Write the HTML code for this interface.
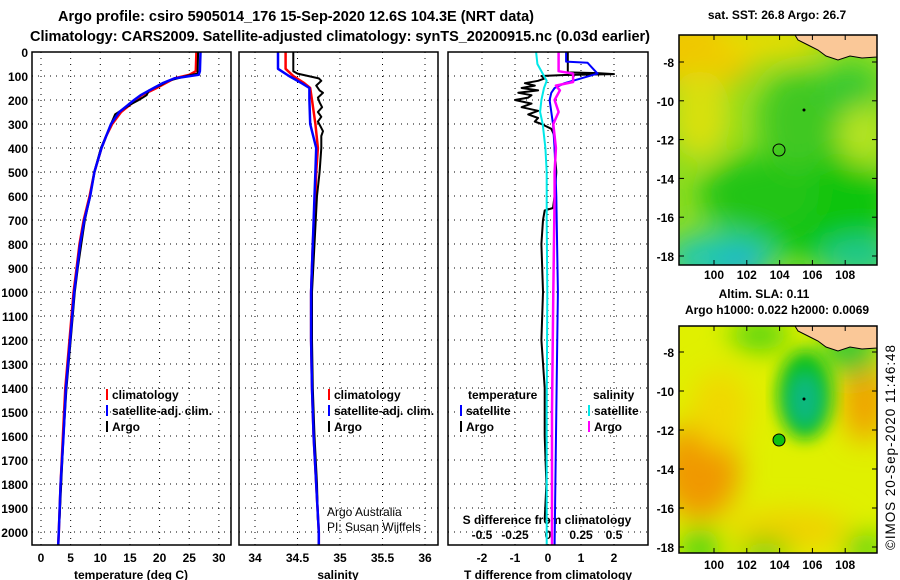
<!DOCTYPE html>
<html><head><meta charset="utf-8"><style>
body{margin:0;background:#fff;}
svg{display:block;font-family:"Liberation Sans",sans-serif;}
</style></head><body>
<svg id="chart" width="900" height="580" viewBox="0 0 900 580" xmlns="http://www.w3.org/2000/svg">
<defs>
<filter id="blur" x="-20%" y="-20%" width="140%" height="140%"><feGaussianBlur stdDeviation="14"/></filter>
<filter id="blur2" x="-20%" y="-20%" width="140%" height="140%"><feGaussianBlur stdDeviation="8"/></filter>
<clipPath id="cp1"><rect x="32" y="52" width="199" height="493"/></clipPath>
<clipPath id="cp2"><rect x="239" y="52" width="199" height="493"/></clipPath>
<clipPath id="cp3"><rect x="448" y="52" width="200" height="493"/></clipPath>
<clipPath id="cm1"><rect x="679" y="35" width="198" height="230"/></clipPath>
<clipPath id="cm2"><rect x="679" y="326" width="198" height="227"/></clipPath>
</defs>
<text x="296" y="21" text-anchor="middle" font-size="14.5" font-weight="bold" textLength="476">Argo profile: csiro 5905014_176 15-Sep-2020 12.6S 104.3E (NRT data)</text>
<text x="340" y="41" text-anchor="middle" font-size="14.5" font-weight="bold" textLength="620">Climatology: CARS2009. Satellite-adjusted climatology: synTS_20200915.nc (0.03d earlier)</text>

<!-- SST map -->
<g clip-path="url(#cm1)">
<rect x="679" y="35" width="198" height="230" fill="#8cdc20"/>
<g filter="url(#blur)">
<ellipse cx="700" cy="50" rx="60" ry="40" fill="#f0c800"/>
<ellipse cx="770" cy="40" rx="55" ry="20" fill="#e8dc00"/>
<ellipse cx="700" cy="115" rx="30" ry="45" fill="#d8e010"/>
<ellipse cx="820" cy="205" rx="75" ry="55" fill="#10c410"/>
<ellipse cx="760" cy="195" rx="60" ry="40" fill="#20c418"/>
<ellipse cx="800" cy="120" rx="40" ry="50" fill="#40c820"/>
<ellipse cx="850" cy="90" rx="30" ry="25" fill="#30c830"/>
<ellipse cx="862" cy="135" rx="22" ry="30" fill="#b8e420"/>
<ellipse cx="720" cy="258" rx="55" ry="25" fill="#20c8b0"/>
<ellipse cx="860" cy="258" rx="40" ry="20" fill="#20c890"/>
<ellipse cx="740" cy="264" rx="20" ry="8" fill="#10a0e8"/>
</g>
<path d="M795,35 L798,40 L808,45 L818,50 L826,56 L838,60 L850,56 L862,58 L877,57 L877,35 Z" fill="#fac898" stroke="#000" stroke-width="1"/>
<circle cx="779" cy="150" r="6" fill="none" stroke="#000" stroke-width="1"/>
<circle cx="804" cy="110" r="1.5" fill="#000"/>
</g>
<rect x="679" y="35" width="198" height="230" fill="none" stroke="#000" stroke-width="1.5"/>
<text x="777" y="19" text-anchor="middle" font-size="12" font-weight="bold">sat. SST: 26.8 Argo: 26.7</text>

<!-- SLA map -->
<g clip-path="url(#cm2)">
<rect x="679" y="326" width="198" height="227" fill="#e0f000"/>
<g filter="url(#blur)">
<ellipse cx="700" cy="470" rx="40" ry="50" fill="#f09800"/>
<ellipse cx="865" cy="400" rx="22" ry="42" fill="#f0a000"/>
<ellipse cx="790" cy="530" rx="60" ry="20" fill="#f0d000"/>
<ellipse cx="720" cy="410" rx="30" ry="40" fill="#f0d800"/>
<ellipse cx="760" cy="335" rx="30" ry="15" fill="#40d010"/>
<ellipse cx="700" cy="548" rx="20" ry="20" fill="#40d010"/>
<ellipse cx="765" cy="552" rx="25" ry="12" fill="#30d010"/>
<ellipse cx="865" cy="548" rx="20" ry="15" fill="#40d010"/>
<ellipse cx="850" cy="350" rx="30" ry="25" fill="#30c830"/>
</g>
<g filter="url(#blur2)">
<ellipse cx="805" cy="395" rx="28" ry="45" fill="#10c020"/>
<ellipse cx="805" cy="400" rx="15" ry="25" fill="#10b880"/>
</g>
<path d="M795,326 L798,331 L808,336 L818,341 L826,347 L838,351 L850,347 L862,349 L877,348 L877,326 Z" fill="#fac898" stroke="#000" stroke-width="1"/>
<circle cx="779" cy="440" r="6" fill="#10c010" stroke="#000" stroke-width="1"/>
<circle cx="804" cy="399" r="1.5" fill="#000"/>
</g>
<rect x="679" y="326" width="198" height="227" fill="none" stroke="#000" stroke-width="1.5"/>
<text x="764" y="298" text-anchor="middle" font-size="12" font-weight="bold">Altim. SLA: 0.11</text>
<text x="777" y="314" text-anchor="middle" font-size="12" font-weight="bold">Argo h1000: 0.022 h2000: 0.0069</text>
<text transform="translate(895,550) rotate(-90)" font-size="13.5" textLength="205">©IMOS 20-Sep-2020 11:46:48</text>

<g id="dyn"></g>
</svg>
<script>
// ---- data ----
const depthTicks = [0,100,200,300,400,500,600,700,800,900,1000,1100,1200,1300,1400,1500,1600,1700,1800,1900,2000];
const tempTicks = [0,5,10,15,20,25,30];
const salTicks = [34,34.5,35,35.5,36];
const tdiffTicks = [-2,-1,0,1,2];
const sdiffTicks = [-0.5,-0.25,0,0.25,0.5];
const lonTicks = [100,102,104,106,108];
const latTicks = [-8,-10,-12,-14,-16,-18];

const tDepth = [0,80,95,110,130,150,180,200,250,300,350,400,500,600,700,800,900,1000,1200,1400,1600,1800,2000,2055];
const tClim = [26.2,26.1,25.0,22.5,21.0,19.5,17.0,16.0,13.5,12.0,11.0,10.2,9.0,8.2,7.2,6.5,6.0,5.5,4.8,4.1,3.7,3.3,3.0,2.9];
const tSat = [26.9,26.8,26.6,22.5,20.5,19.0,16.8,15.7,13.2,11.8,11.0,10.2,9.0,8.3,7.3,6.6,6.1,5.6,4.9,4.2,3.8,3.3,3.0,2.9];
const tArgoDepth = [0,90,100,120,140,160,180,200,220,260,300,350,400,500,600,700,800,900,1000,1200,1400,1600,1800,1960];
const tArgo = [26.5,26.4,24.5,21.5,20.0,18.2,17.8,16.5,15.0,12.5,11.8,11.0,10.1,9.0,8.3,7.4,6.8,6.2,5.7,5.0,4.3,3.8,3.4,3.1];

const sDepth = [0,70,100,130,150,200,300,400,500,600,800,1000,1200,1400,1600,1800,2000,2055];
const sClim = [34.36,34.36,34.45,34.58,34.65,34.67,34.71,34.74,34.72,34.71,34.68,34.66,34.66,34.67,34.69,34.72,34.75,34.75];
const sSat = [34.27,34.27,34.40,34.55,34.64,34.64,34.65,34.72,34.71,34.70,34.68,34.66,34.66,34.67,34.69,34.72,34.75,34.75];
const sArgoDepth = [0,80,90,110,120,140,160,170,190,210,230,250,270,290,310,330,350,400,500,600,800,1000,1200,1400,1600,1800,1950];
const sArgo = [34.45,34.45,34.50,34.75,34.78,34.72,34.76,34.80,34.74,34.76,34.79,34.74,34.78,34.74,34.77,34.80,34.78,34.78,34.76,34.73,34.70,34.67,34.67,34.68,34.70,34.73,34.74];

const dTArgoDepth = [0,85,88,92,96,100,110,120,130,140,150,160,170,180,190,200,215,230,245,260,275,290,300,320,350,400,500,600,650,660,700,800,1000,1200,1400,1600,1800,1950];
const dTArgo = [0.6,0.6,1.5,2.0,0.5,-0.2,-0.1,-0.3,-0.7,-0.4,-0.8,-0.3,-0.9,-0.5,-0.6,-1.0,-0.5,-0.8,-0.3,-0.6,-0.3,-0.4,-0.2,0.1,0.2,0.2,0.25,0.2,0.15,-0.1,-0.15,-0.2,-0.15,-0.2,-0.1,-0.1,-0.05,-0.1];
const dTSatDepth = [0,40,45,60,90,110,130,150,170,200,300,400,600,1000,1500,2055];
const dTSat = [0.55,0.55,1.2,1.3,1.5,1.0,0.5,0.2,0.1,0.05,0.15,0.2,0.25,0.3,0.25,0.2];
const dSSatDepth = [0,50,100,120,150,200,250,300,400,500,700,1000,1500,2000,2055];
const dSSat = [-0.09,-0.08,-0.03,-0.01,-0.03,-0.05,-0.06,-0.04,-0.02,-0.01,-0.01,-0.005,-0.01,-0.01,-0.01];
const dSArgoDepth = [0,80,90,125,140,160,200,250,300,400,500,600,1000,1500,2000,2055];
const dSArgo = [0.08,0.08,0.19,0.19,0.06,0.09,0.05,0.08,0.04,0.06,0.05,0.05,0.04,0.03,0.03,0.03];

// ---- scales ----
const NS = 'http://www.w3.org/2000/svg';
const root = document.getElementById('dyn');
const yD = d => 52 + d * 0.24;
const xT = v => 41 + v * 5.93;
const xS = v => 255 + (v - 34) * 85;
const xDT = v => 548 + v * 33;
const xDS = v => 548 + v * 132;
const xLon = v => 714 + (v - 100) * 16.4;
const yLat1 = v => 62 + (-8 - v) * 19.4;
const yLat2 = v => 352 + (-8 - v) * 19.5;

function mk(tag, attrs, parent) {
  const e = document.createElementNS(NS, tag);
  for (const k in attrs) e.setAttribute(k, attrs[k]);
  (parent || root).appendChild(e);
  return e;
}
function txt(s, x, y, anchor, bold, parent) {
  const t = mk('text', {x: x, y: y, 'text-anchor': anchor, 'font-size': 12}, parent);
  if (bold) t.setAttribute('font-weight', 'bold');
  t.textContent = s;
  return t;
}

const panels = [
  {x0: 32, x1: 231, cp: 'cp1', name: 'temperature'},
  {x0: 239, x1: 438, cp: 'cp2', name: 'salinity'},
  {x0: 448, x1: 648, cp: 'cp3', name: 'difference'}
];
panels.forEach(p => {
  const g = mk('g', {});
  
  
  depthTicks.forEach(d => {
    mk('line', {x1: p.x0, x2: p.x1, y1: yD(d), y2: yD(d), stroke: '#000', 'stroke-width': 1, 'stroke-dasharray': '1,5'}, g);
  });
});
function vgrid(ticks, sc, p) {
  const g = mk('g', {});
  
  
  ticks.forEach(v => {
    mk('line', {x1: sc(v), x2: sc(v), y1: 52, y2: 545, stroke: '#000', 'stroke-width': 1, 'stroke-dasharray': '1,5'}, g);
  });
}
vgrid(tempTicks, xT, panels[0]);
vgrid(salTicks, xS, panels[1]);
vgrid(tdiffTicks, xDT, panels[2]);

const yl = mk('g', {});


depthTicks.forEach(d => { txt(String(d), 28, yD(d) + 5, 'end', true, yl); });

function xlabels(ticks, sc, y, name) {
  const g = mk('g', {});
  
  
  ticks.forEach(v => { txt(String(v), sc(v), y, 'middle', true, g); });
}
xlabels(tempTicks, xT, 562, 'temperature-tick-labels');
xlabels(salTicks, xS, 562, 'salinity-tick-labels');
xlabels(tdiffTicks, xDT, 562, 'tdiff-tick-labels');
xlabels(sdiffTicks, xDS, 539, 'sdiff-tick-labels');

let t;
t = txt('temperature (deg C)', 131, 579, 'middle', true);


t = txt('salinity', 338, 579, 'middle', true);


t = txt('T difference from climatology', 548, 579, 'middle', true);


t = txt('S difference from climatology', 547, 524, 'middle', true);



function series(depths, vals, sc, color, cp, name, w) {
  const pts = depths.map((d, i) => sc(vals[i]).toFixed(1) + ',' + yD(d).toFixed(1)).join(' ');
  const pl = mk('polyline', {points: pts, fill: 'none', stroke: color, 'stroke-width': w || 2.5, 'clip-path': 'url(#' + cp + ')', 'stroke-linejoin': 'round'});
  
  
}
series(tDepth, tClim, xT, '#f00', 'cp1', 'temperature-climatology-line');
series(tArgoDepth, tArgo, xT, '#000', 'cp1', 'temperature-argo-line', 2);
series(tDepth, tSat, xT, '#00f', 'cp1', 'temperature-satellite-line');
series(sDepth, sClim, xS, '#f00', 'cp2', 'salinity-climatology-line');
series(sArgoDepth, sArgo, xS, '#000', 'cp2', 'salinity-argo-line', 2);
series(sDepth, sSat, xS, '#00f', 'cp2', 'salinity-satellite-line');
series(dTArgoDepth, dTArgo, xDT, '#000', 'cp3', 'tdiff-argo-line', 2);
series(dTSatDepth, dTSat, xDT, '#00f', 'cp3', 'tdiff-satellite-line', 2);
series(dSSatDepth, dSSat, xDS, '#00e8e8', 'cp3', 'sdiff-satellite-line', 2);
series(dSArgoDepth, dSArgo, xDS, '#f0f', 'cp3', 'sdiff-argo-line', 2.5);

panels.forEach(p => {
  const r = mk('rect', {x: p.x0, y: 52, width: p.x1 - p.x0, height: 493, fill: 'none', stroke: '#000', 'stroke-width': 1.5});
  
  
});

function legend(x, y, color, label, name) {
  const g = mk('g', {});
  
  
  mk('line', {x1: x, x2: x, y1: y - 10, y2: y + 1, stroke: color, 'stroke-width': 2}, g);
  txt(label, x + 5, y, 'start', true, g);
}
legend(107, 399, '#f00', 'climatology', 'legend-temp-climatology');
legend(107, 415, '#00f', 'satellite-adj. clim.', 'legend-temp-satellite');
legend(107, 431, '#000', 'Argo', 'legend-temp-argo');
legend(329, 399, '#f00', 'climatology', 'legend-sal-climatology');
legend(329, 415, '#00f', 'satellite-adj. clim.', 'legend-sal-satellite');
legend(329, 431, '#000', 'Argo', 'legend-sal-argo');
t = txt('temperature', 468, 399, 'start', true);


t = txt('salinity', 593, 399, 'start', true);


legend(461, 415, '#00f', 'satellite', 'legend-tdiff-satellite');
legend(461, 431, '#000', 'Argo', 'legend-tdiff-argo');
legend(589, 415, '#00e8e8', 'satellite', 'legend-sdiff-satellite');
legend(589, 431, '#f0f', 'Argo', 'legend-sdiff-argo');

t = txt('Argo Australia', 327, 516, 'start', false);


t = txt('PI: Susan Wijffels', 327, 531, 'start', false);



function mapAxes(yLat, top, bottom, lonY, name) {
  const g = mk('g', {});
  
  
  latTicks.forEach(v => {
    txt(String(v), 674, yLat(v) + 5, 'end', true, g);
    mk('line', {x1: 877, x2: 872, y1: yLat(v), y2: yLat(v), stroke: '#000'}, g);
    mk('line', {x1: 679, x2: 684, y1: yLat(v), y2: yLat(v), stroke: '#000'}, g);
  });
  lonTicks.forEach(v => {
    txt(String(v), xLon(v), lonY, 'middle', true, g);
    mk('line', {x1: xLon(v), x2: xLon(v), y1: top, y2: top + 5, stroke: '#000'}, g);
    mk('line', {x1: xLon(v), x2: xLon(v), y1: bottom, y2: bottom - 5, stroke: '#000'}, g);
  });
}
mapAxes(yLat1, 35, 265, 279, 'sst-map-axes');
mapAxes(yLat2, 326, 553, 569, 'sla-map-axes');
</script>
</body></html>
